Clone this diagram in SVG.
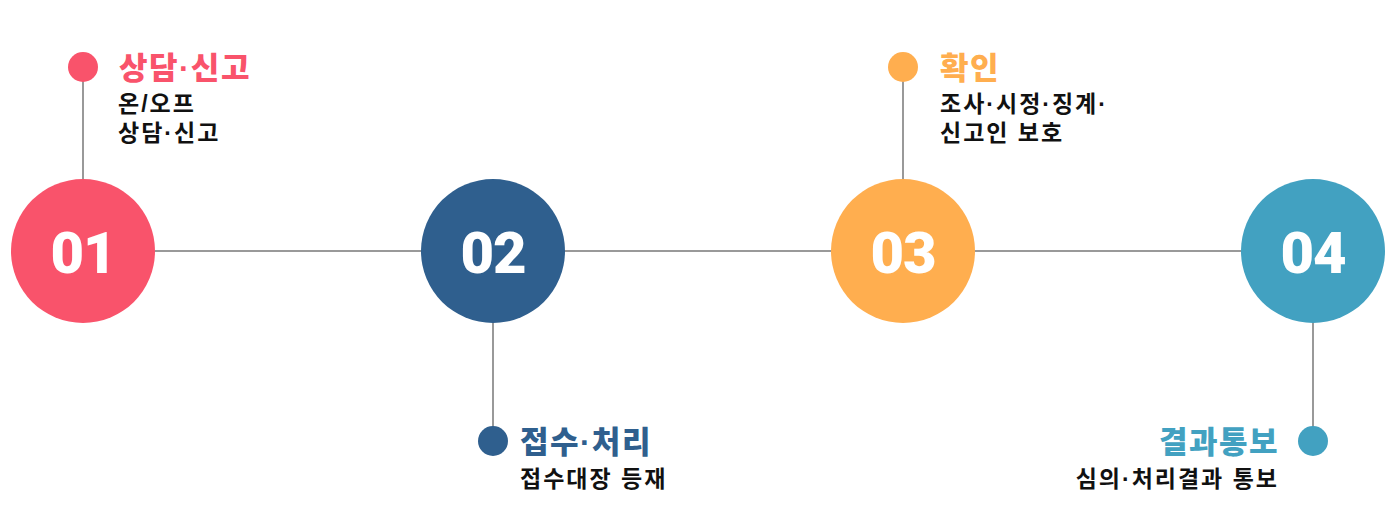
<svg xmlns="http://www.w3.org/2000/svg" width="1400" height="526" viewBox="0 0 1400 526">
<style>
.ln{stroke:#999;stroke-width:2;fill:none}
.num{font-family:Roboto,"Liberation Sans",sans-serif;font-weight:900;font-size:58px;fill:#fff;text-anchor:middle;letter-spacing:-1px}
.ttl{font-family:"Liberation Sans","Noto Sans CJK KR",sans-serif;font-weight:900;font-size:31px;letter-spacing:1.5px}
.body{font-family:"Liberation Sans","Noto Sans CJK KR",sans-serif;font-weight:700;font-size:23px;fill:#111;letter-spacing:2px}
</style>
<rect width="1400" height="526" fill="#fff"/>
<g id="connectors">
<line class="ln" x1="155" y1="251" x2="1241" y2="251"/>
<line class="ln" x1="83" y1="67" x2="83" y2="180"/>
<line class="ln" x1="493" y1="322" x2="493" y2="441"/>
<line class="ln" x1="903" y1="67" x2="903" y2="180"/>
<line class="ln" x1="1313" y1="322" x2="1313" y2="441"/>
</g>
<g id="node1">
<circle cx="83" cy="251" r="72" fill="#f9536b"/>
<text class="num" x="83" y="273">01</text>
<circle cx="83" cy="67" r="15" fill="#f9536b"/>
<text class="ttl" x="119" y="79" fill="#f9536b">상담·신고</text>
<text class="body" x="118" y="112">온/오프</text>
<text class="body" x="118" y="141">상담·신고</text>
</g>
<g id="node2">
<circle cx="493" cy="251" r="72" fill="#2f5f8e"/>
<text class="num" x="493" y="273">02</text>
<circle cx="493" cy="441" r="15" fill="#2f5f8e"/>
<text class="ttl" x="520" y="453" fill="#2f5f8e">접수·처리</text>
<text class="body" x="520" y="487">접수대장 등재</text>
</g>
<g id="node3">
<circle cx="903" cy="251" r="72" fill="#ffae4f"/>
<text class="num" x="903" y="273">03</text>
<circle cx="903" cy="67" r="15" fill="#ffae4f"/>
<text class="ttl" x="940" y="79" fill="#ffae4f">확인</text>
<text class="body" x="940" y="112">조사·시정·징계·</text>
<text class="body" x="940" y="141">신고인 보호</text>
</g>
<g id="node4">
<circle cx="1313" cy="251" r="72" fill="#42a1c1"/>
<text class="num" x="1313" y="273">04</text>
<circle cx="1313" cy="441" r="15" fill="#42a1c1"/>
<text class="ttl" x="1279" y="453" fill="#42a1c1" text-anchor="end">결과통보</text>
<text class="body" x="1279" y="487" text-anchor="end">심의·처리결과 통보</text>
</g>
</svg>
